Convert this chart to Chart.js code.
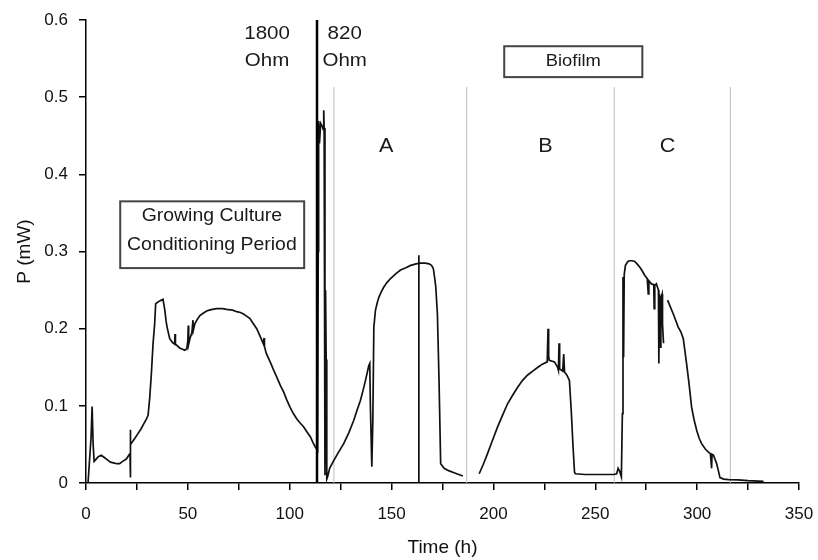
<!DOCTYPE html>
<html><head><meta charset="utf-8">
<script src="https://cdn.jsdelivr.net/npm/chart.js@4"></script>
<style>html,body{margin:0;padding:0;background:#fff}#wrap{width:818px;height:560px}</style>
</head><body><div id="wrap"><canvas id="c" width="818" height="560"></canvas></div>
<script>
// ---- data ----
const timeH = [
  1.0,2.5,3.0,3.5,4.0,5.0,6.0,7.5,9.0,10.5,12.0,13.5,15.0,16.5,18.0,19.8,21.0,21.6,21.7,21.8,22.0,22.7,24.0,25.5,27.0,28.0,29.5,30.5,
  31.3,32.1,32.9,33.7,34.2,35.0,36.2,37.0,37.8,38.7,39.3,39.8,41.1,42.5,43.5,43.7,43.9,46.0,48.5,49.5,50.0,50.2,50.4,51.0,52.0,52.5,52.7,53.4,
  54.6,55.9,57.5,59.2,60.5,62.0,64.1,67.0,69.0,72.0,74.0,75.8,77.3,79.0,80.5,82.0,83.8,85.5,87.1,87.4,87.6,88.5,90.4,92.0,93.7,95.5,97.0,98.5,100.2,101.8,103.5,105.0,
  106.8,108.5,110.1,111.5,112.5,113.7,114.0,114.2,114.6,115.2,116.0,116.5,116.7,116.9,117.3,117.6,117.9,118.2,118.6,119.6,121.6,124.0,126.5,
  129.0,131.4,133.0,134.7,136.0,137.2,138.8,139.3,139.6,140.3,140.8,141.3,142.1,143.0,143.8,145.0,146.2,147.8,149.5,152.0,154.4,157.0,159.4,162.0,164.3,166.5,
  168.4,169.6,170.5,171.2,171.7,172.5,173.3,174.1,175.8,178.0,181.0,184.0,185.0,189.0,
  193.0,195.0,197.1,199.5,202.1,204.5,207.0,209.5,211.9,214.3,216.8,219.3,221.8,224.0,226.4,226.8,227.1,227.4,230.0,231.5,231.9,232.2,232.5,
  234.0,234.5,234.9,236.0,237.3,238.2,239.0,239.8,240.2,245.0,250.0,255.0,259.0,260.5,261.2,262.0,262.8,263.3,263.6,263.9,264.2,264.8,266.0,
  266.9,268.0,269.4,270.5,271.8,273.0,274.3,275.5,276.0,276.3,277.6,278.7,278.9,279.2,280.0,281.0,281.2,281.5,281.9,282.2,282.8,283.0,283.5,
  284.5,285.5,286.9,288.3,290.7,292.0,293.2,294.8,296.0,297.3,298.5,299.8,301.0,302.2,304.0,305.5,306.5,307.1,307.3,308.0,309.6,310.5,311.2,313.0,
  315.4,320.0,325.0,332.6
];
const powerMW = [
  0.000,0.060,0.099,0.050,0.028,0.031,0.034,0.036,0.033,0.030,0.027,0.026,0.025,0.025,0.028,0.031,0.036,0.038,0.069,0.007,0.050,0.053,0.058,0.064,0.070,0.075,0.082,0.088,
  0.111,0.142,0.180,0.206,0.232,0.234,0.236,0.237,0.238,0.224,0.210,0.202,0.187,0.182,0.180,0.193,0.180,0.175,0.172,0.174,0.185,0.204,0.180,0.187,0.195,0.211,0.198,0.206,
  0.212,0.217,0.220,0.223,0.224,0.225,0.226,0.226,0.225,0.224,0.222,0.221,0.219,0.216,0.213,0.207,0.200,0.190,0.180,0.188,0.177,0.168,0.157,0.147,0.137,0.126,0.118,0.108,0.098,0.090,0.083,0.078,
  0.073,0.066,0.060,0.052,0.047,0.042,0.300,0.469,0.440,0.466,0.462,0.458,0.483,0.460,0.010,0.250,0.160,0.005,0.008,0.019,0.029,0.040,0.051,
  0.065,0.081,0.094,0.107,0.120,0.133,0.152,0.155,0.100,0.021,0.080,0.202,0.224,0.234,0.241,0.248,0.254,0.260,0.265,0.271,0.276,0.279,0.282,0.284,0.285,0.285,
  0.284,0.282,0.278,0.265,0.254,0.219,0.133,0.025,0.019,0.016,0.013,0.010,0.009,null,
  0.012,0.024,0.038,0.055,0.073,0.088,0.103,0.114,0.124,0.133,0.140,0.145,0.150,0.154,0.157,0.200,0.165,0.159,0.157,0.150,0.146,0.181,0.148,
  0.145,0.167,0.144,0.140,0.133,0.094,0.051,0.014,0.012,0.011,0.011,0.011,0.011,0.012,0.019,0.015,0.008,0.090,0.267,0.163,0.270,0.282,0.287,
  0.288,0.288,0.287,0.284,0.280,0.275,0.269,0.265,0.245,0.262,0.258,0.257,0.226,0.256,0.258,0.250,0.155,0.245,0.176,0.240,0.245,0.206,0.181,
  null,0.237,0.228,0.219,0.202,0.196,0.187,0.155,0.129,0.098,0.082,0.068,0.058,0.051,0.044,0.040,0.038,0.019,0.037,0.036,0.025,0.015,0.007,0.005,
  0.0045,0.004,0.003,0.002
];
const resistorSwitchTime = [113.4];
const resistorSwitchTop = [0.6];
const markerTime = [163.4];
const markerTop = [0.295];
const phaseDividerTimes = [121.7, 186.9, 259.3, 316.3];
const phaseDividerTop = 0.513;
const xTickLabels = [0, 50, 100, 150, 200, 250, 300, 350];
const yTickLabels = [0, 0.1, 0.2, 0.3, 0.4, 0.5, 0.6];

// ---- build library structures ----
const curve = timeH.map((t, i) => ({x: t, y: powerMW[i]}));
function verticals(times, tops) {
  const pts = [];
  times.forEach((t, i) => {
    const top = Array.isArray(tops) ? tops[i] : tops;
    pts.push({x: t, y: 0}, {x: t, y: top}, {x: t, y: null});
  });
  return pts;
}

const annotations = {
  texts: [
    {t: '1800', x: 88.9, y: 0.5825, size: 19},
    {t: 'Ohm',  x: 88.9, y: 0.5475, size: 19},
    {t: '820',  x: 127.0, y: 0.5825, size: 19},
    {t: 'Ohm',  x: 127.0, y: 0.5475, size: 19},
    {t: 'A', x: 147.4, y: 0.436, size: 20},
    {t: 'B', x: 225.5, y: 0.436, size: 20},
    {t: 'C', x: 285.5, y: 0.436, size: 20},
    {t: 'Biofilm', x: 239.2, y: 0.546, size: 17},
    {t: 'Growing Culture', x: 61.8, y: 0.3455, size: 18},
    {t: 'Conditioning Period', x: 61.8, y: 0.308, size: 18}
  ],
  boxes: [
    {x0: 16.8, x1: 107.1, y0: 0.2785, y1: 0.365},
    {x0: 205.3, x1: 273.1, y0: 0.526, y1: 0.566}
  ]
};

const annotationPlugin = {
  id: 'annot',
  afterDatasetsDraw(chart) {
    const {ctx, scales: {x, y}} = chart;
    ctx.save();
    ctx.strokeStyle = '#444';
    ctx.lineWidth = 2;
    annotations.boxes.forEach(b => {
      const l = x.getPixelForValue(b.x0), r = x.getPixelForValue(b.x1);
      const t = y.getPixelForValue(b.y1), bt = y.getPixelForValue(b.y0);
      ctx.strokeRect(l, t, r - l, bt - t);
    });
    ctx.fillStyle = '#1a1a1a';
    ctx.textAlign = 'center';
    ctx.textBaseline = 'middle';
    annotations.texts.forEach(a => {
      ctx.save();
      ctx.translate(x.getPixelForValue(a.x), y.getPixelForValue(a.y));
      ctx.scale(1.08, 1);
      ctx.font = a.size + 'px "Liberation Sans", Arial, sans-serif';
      ctx.fillText(a.t, 0, 0);
      ctx.restore();
    });
    ctx.restore();
  }
};

const fontFam = '"Liberation Sans", Arial, sans-serif';

new Chart(document.getElementById('c'), {
  type: 'line',
  data: {
    datasets: [
      {data: verticals(phaseDividerTimes, phaseDividerTop), borderColor: '#bdbdbd', borderWidth: 1, pointRadius: 0, spanGaps: false, order: 3},
      {data: curve, borderColor: '#111', borderWidth: 1.7, pointRadius: 0, spanGaps: false, tension: 0, order: 2},
      {data: verticals(resistorSwitchTime, resistorSwitchTop), borderColor: '#000', borderWidth: 2.5, pointRadius: 0, spanGaps: false, order: 1},
      {data: verticals(markerTime, markerTop), borderColor: '#000', borderWidth: 1.6, pointRadius: 0, spanGaps: false, order: 1}
    ]
  },
  options: {
    responsive: false,
    animation: false,
    devicePixelRatio: 1,
    layout: {padding: {left: 0, right: 19, top: 20, bottom: 0}},
    plugins: {legend: {display: false}, tooltip: {enabled: false}},
    scales: {
      x: {
        type: 'linear', min: 0, max: 350,
        afterFit: s => { s.height = 77; s.paddingLeft = 0; s.paddingRight = 0; },
        ticks: {
          stepSize: 25, autoSkip: false, maxRotation: 0, padding: 14, color: '#111',
          font: {family: fontFam, size: 17},
          callback: v => (xTickLabels.includes(v) ? String(v) : '')
        },
        grid: {drawOnChartArea: false, drawTicks: true, tickLength: 7, color: '#000', lineWidth: 1.5},
        border: {display: true, color: '#000', width: 1.5},
        title: {display: true, text: 'Time (h)', color: '#111', font: {family: fontFam, size: 19}, padding: {top: 1, bottom: 1}}
      },
      y: {
        type: 'linear', min: 0, max: 0.6,
        afterFit: s => { s.width = 86; s.paddingTop = 0; s.paddingBottom = 0; },
        ticks: {
          stepSize: 0.1, padding: 11, color: '#111',
          font: {family: fontFam, size: 17},
          callback: v => {
            const m = yTickLabels.find(t => Math.abs(t - v) < 1e-9);
            return m === undefined ? '' : (m === 0 ? '0' : m.toFixed(1));
          }
        },
        grid: {drawOnChartArea: false, drawTicks: true, tickLength: 7, color: '#000', lineWidth: 1.5},
        border: {display: true, color: '#000', width: 1.5},
        title: {display: true, text: 'P (mW)', color: '#111', font: {family: fontFam, size: 19}, padding: {top: 13, bottom: 13}}
      }
    }
  },
  plugins: [annotationPlugin]
});
</script></body></html>
